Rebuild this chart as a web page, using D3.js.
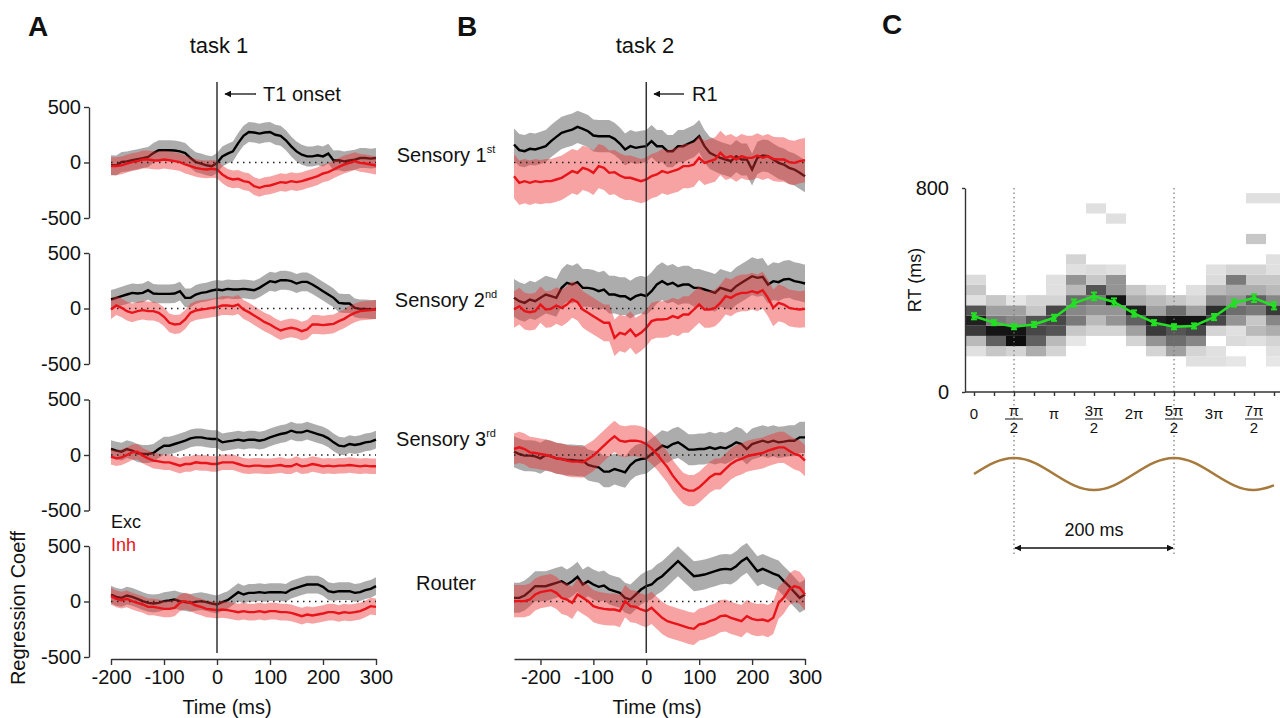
<!DOCTYPE html>
<html>
<head>
<meta charset="utf-8">
<script src="https://cdn.jsdelivr.net/npm/d3@7"></script>
<style>
body { margin: 0; background: #fff; }
svg { font-family: "Liberation Sans", Arial, sans-serif; }
.axis path, .axis line { stroke: #333; stroke-width: 1.4; }
.axis text { font-size: 20px; fill: #111; font-family: "Liberation Sans", Arial, sans-serif; }
</style>
</head>
<body>
<svg id="fig" width="1280" height="718"></svg>
<script>
// ---- data: panel A (task 1), time step 10 ms
var timeA = d3.range(-200, 301, 10);
var a1Exc = [-25,-27,5,10,20,30,40,50,85,110, 110,110,108,100,85,40,3,-10,-25,-33, -5,55,80,100,175,240,275,270,260,270, 275,250,240,200,145,100,70,55,55,65, 55,80,18,20,10,18,25,40,40,35, 40];
var a1Inh = [-33,-33,-25,-10,3,12,27,27,20,18, 27,20,12,3,-18,-33,-48,-57,-63,-57, -63,-108,-138,-153,-147,-168,-177,-213,-228,-213, -207,-192,-177,-183,-168,-177,-168,-153,-138,-123, -99,-87,-63,-39,-18,-3,12,-3,-9,-18, -27];
var a2Exc = [81,96,111,126,141,135,141,165,135,132, 132,132,135,156,96,96,126,141,147,162, 171,165,177,171,171,177,171,165,186,216, 246,237,255,255,246,225,240,240,216,186, 156,126,96,51,45,45,6,-3,-3,-9, -9];
var a2Inh = [-9,27,6,-24,-39,-24,-15,-24,-24,-39, -75,-129,-144,-138,-99,-39,-18,-9,-3,6, 12,27,27,21,36,-9,-33,-63,-93,-123, -144,-174,-198,-183,-174,-183,-204,-189,-144,-144, -150,-144,-138,-114,-93,-63,-39,-24,-18,-15, -9];
var a3Exc = [54,39,30,54,39,18,9,9,18,54, 84,84,99,114,129,150,159,159,150,144, 144,114,123,129,138,129,138,138,129,138, 159,174,189,198,219,204,204,219,204,189, 174,150,114,84,78,99,90,99,114,120, 138];
var a3Inh = [-15,-30,-21,0,24,30,-6,-30,-51,-57, -66,-66,-81,-96,-81,-81,-66,-72,-72,-81, -81,-66,-66,-66,-81,-96,-102,-96,-96,-102, -102,-96,-90,-102,-102,-81,-102,-96,-81,-90, -102,-96,-102,-96,-96,-90,-96,-102,-96,-102, -102];
var a4Exc = [63,42,33,54,42,24,3,-12,-18,-12, 3,9,18,3,-6,-12,-3,3,-6,-18, -27,-6,12,48,84,63,78,78,84,78, 84,84,84,78,108,123,138,153,153,153, 132,93,84,93,93,93,78,84,102,114, 138];
var a4Inh = [48,24,12,24,3,-12,-27,-48,-48,-57, -66,-66,-57,-12,3,-12,-36,-48,-66,-72, -78,-72,-78,-87,-96,-87,-96,-96,-87,-96, -87,-87,-96,-96,-102,-117,-132,-117,-126,-117, -108,-96,-96,-108,-96,-102,-96,-87,-66,-42, -48];
var semAExc = [90, 85, 80, 80];
var semAInh = [80, 85, 70, 75];

// ---- data: panel B (task 2)
var timeB = d3.range(-250, 301, 10);
var b1Exc = [162,111,102,123,117,132,147,192,231,267, 282,297,321,303,282,243,237,237,237,213, 171,117,147,132,141,147,192,147,147,102, 102,147,147,171,192,237,147,87,63,42, 27,12,57,27,27,-63,42,63,57,27, -3,-18,-48,-63,-93,-123];
var b1Inh = [-123,-183,-168,-183,-168,-177,-168,-168,-153,-138, -108,-78,-93,-48,-63,-93,-33,-48,-93,-87, -117,-138,-138,-153,-168,-153,-123,-108,-78,-93, -78,-63,-33,-33,-18,42,-3,12,27,87, 42,57,27,57,42,42,63,42,57,33, 27,27,3,-3,12,21];
var b2Exc = [96,66,51,81,66,96,126,111,96,186, 231,216,237,186,186,177,156,171,126,126, 111,111,81,111,126,111,156,216,246,216, 231,201,216,216,186,186,171,156,141,186, 171,156,201,231,261,291,276,285,216,246, 237,261,267,246,237,225];
var b2Inh = [-9,21,-24,-33,-24,36,-9,-3,27,6, 36,81,57,-9,-39,-69,-99,-129,-129,-264, -219,-234,-189,-249,-219,-174,-114,-99,-99,-93, -69,-84,-54,-54,-9,36,-9,-9,6,51, 111,96,126,141,141,156,141,165,96,6, 51,36,6,-3,-9,-3];
var b3Exc = [30,9,-6,-6,-12,-30,0,-12,-30,-36, -45,-45,-51,-51,-90,-102,-111,-150,-150,-126, -141,-156,-90,-51,-36,-30,9,48,84,69, 99,114,84,48,48,54,54,69,54,69, 60,84,114,99,54,99,114,129,114,129, 114,120,129,129,159,159];
var b3Inh = [54,69,54,24,18,9,0,-12,-30,-36, -51,-60,-60,-66,-36,-6,39,84,129,168, 129,120,129,129,120,99,60,9,-51,-111, -186,-246,-300,-321,-321,-291,-246,-201,-171,-171, -126,-81,-51,-36,-12,0,9,18,39,54, 69,69,39,9,-6,-51];
var b4Exc = [33,33,54,93,138,138,138,153,168,183, 153,183,222,153,183,153,132,144,108,93, 78,33,18,63,108,138,153,198,228,273, 318,363,318,273,228,234,243,258,273,288, 294,288,318,363,393,333,273,294,273,252, 234,183,138,84,33,63];
var b4Inh = [3,3,3,18,63,84,93,102,78,33, 18,-12,63,33,3,-42,-57,-66,-72,-72, -87,3,-42,-48,-72,-87,-57,-102,-147,-177, -192,-207,-222,-237,-246,-207,-198,-177,-162,-132, -126,-147,-162,-177,-132,-156,-168,-162,-177,-147, -12,36,108,138,123,63];
var semBExc = [145, 170, 140, 135];
var semBInh = [200, 165, 140, 145];

var rowNames = ["Sensory 1", "Sensory 2", "Sensory 3", "Router"];
var rowSup = ["st", "nd", "rd", ""];
var legendLabels = ["Exc", "Inh"];

// ---- data: panel C (phase in units of pi)
var phases = [0, 0.25, 0.5, 0.75, 1, 1.25, 1.5, 1.75, 2, 2.25, 2.5, 2.75, 3, 3.25, 3.5, 3.75];
var rtBins = [100, 140, 180, 220, 260, 300, 340, 380, 420, 460, 500, 540, 580, 620, 660, 700, 740];
// one row per phase column, values per RT bin (100..740), 0 = white, 1 = black
var heatCols = [
  [0, .1, .25, .75, .85, .65, .1, .2, .12, 0, 0, 0, 0, 0, 0, 0, 0],
  [0, .2, .6, .9, .5, .35, .2, 0, 0, 0, 0, 0, 0, 0, 0, 0, 0],
  [0, .15, .95, .9, .45, .35, .08, 0, 0, 0, 0, 0, 0, 0, 0, 0, 0],
  [0, .3, .6, .7, .65, .2, .15, 0, 0, 0, 0, 0, 0, 0, 0, 0, 0],
  [0, .15, .25, .65, .7, .7, .15, .1, .1, 0, 0, 0, 0, 0, 0, 0, 0],
  [0, 0, .08, .2, .5, .45, .55, .25, .4, .1, .15, 0, 0, 0, 0, 0, 0],
  [0, 0, 0, .15, .25, .4, .5, .65, .2, .12, 0, 0, 0, 0, 0, .1, 0],
  [0, 0, 0, .15, .4, .4, .9, .4, .4, .1, 0, 0, 0, 0, .1, 0, 0],
  [0, 0, .15, .35, .6, .85, .3, .2, 0, 0, 0, 0, 0, 0, 0, 0, 0],
  [0, .15, .4, .75, .85, .35, .25, .1, 0, 0, 0, 0, 0, 0, 0, 0, 0],
  [0, .35, .55, .65, .9, .55, .2, 0, 0, 0, 0, 0, 0, 0, 0, 0, 0],
  [.1, .15, .45, .7, .9, .35, .15, .1, 0, 0, 0, 0, 0, 0, 0, 0, 0],
  [.1, .1, 0, .15, .7, .8, .45, .25, .12, .1, 0, 0, 0, 0, 0, 0, 0],
  [.08, 0, .12, .1, .4, .55, .4, .3, .5, .15, 0, 0, 0, 0, 0, 0, 0],
  [0, 0, .1, .25, .2, .5, .6, .3, .2, .15, 0, 0, .2, 0, 0, 0, .1],
  [.08, .1, .15, .3, .45, .75, .45, .25, .2, .1, .1, 0, 0, 0, 0, 0, .1]
];
var rtMean = [297, 272, 256, 265, 291, 349, 375, 353, 308, 272, 256, 259, 294, 349, 368, 338];
var rtErr = [12, 10, 10, 10, 12, 14, 15, 14, 12, 10, 10, 10, 12, 14, 15, 14];
var sineVal = [0, .71, 1, .71, 0, -.71, -1, -.71, 0, .71, 1, .71, 0, -.71, -1, -.71];
var cTickNum = ["0", "π", "π", "3π", "2π", "5π", "3π", "7π"];
var cTickDen = ["", "2", "", "2", "", "2", "", "2"];
var cTickAt = [0, 0.5, 1, 1.5, 2, 2.5, 3, 3.5];

var svg = d3.select("#fig");

svg.append("defs").append("marker")
    .attr("id", "arrow")
    .attr("viewBox", "0 0 10 10")
    .attr("refX", 9).attr("refY", 5)
    .attr("markerWidth", 7).attr("markerHeight", 7)
    .attr("markerUnits", "userSpaceOnUse")
    .attr("orient", "auto-start-reverse")
    .append("path")
    .attr("d", "M0,0 L10,5 L0,10 z")
    .attr("fill", "#111");

var rowTop = [107, 253, 399.5, 546], rowH = 111;
var yRow = rowTop.map(function(t) {
    return d3.scaleLinear().domain([-500, 500]).range([t + rowH, t]);
});

var xA = d3.scaleLinear().domain([-200, 300]).range([111, 376]);
var xB = d3.scaleLinear().domain([-250, 300]).range([514, 805]);
var plain = function(d) { return String(d); };   // keep ascii hyphen like the figure

function drawPanel(x, t, excRows, inhRows, semExc, semInh) {
    excRows.forEach(function(exc, i) {
        var y = yRow[i];
        var inh = inhRows[i];
        var pts = t.map(function(tt, j) { return { t: tt, e: exc[j], h: inh[j] }; });
        var g = svg.append("g");

        g.append("path").datum(pts)
            .attr("d", d3.area()
                .x(function(d) { return x(d.t); })
                .y0(function(d) { return y(d.e - semExc[i]); })
                .y1(function(d) { return y(d.e + semExc[i]); }))
            .attr("fill", "#7f7f7f")
            .attr("fill-opacity", 0.65);
        g.append("path").datum(pts)
            .attr("d", d3.line()
                .x(function(d) { return x(d.t); })
                .y(function(d) { return y(d.e); }))
            .attr("fill", "none")
            .attr("stroke", "#000")
            .attr("stroke-width", 2.4);
        g.append("path").datum(pts)
            .attr("d", d3.area()
                .x(function(d) { return x(d.t); })
                .y0(function(d) { return y(d.h - semInh[i]); })
                .y1(function(d) { return y(d.h + semInh[i]); }))
            .attr("fill", "#ee3333")
            .attr("fill-opacity", 0.45);
        g.append("line")
            .attr("x1", x(t[0])).attr("x2", x(t[t.length - 1]))
            .attr("y1", y(0)).attr("y2", y(0))
            .attr("stroke", "#222")
            .attr("stroke-width", 1.6)
            .attr("stroke-dasharray", "1.5,4.5");
        g.append("path").datum(pts)
            .attr("d", d3.line()
                .x(function(d) { return x(d.t); })
                .y(function(d) { return y(d.h); }))
            .attr("fill", "none")
            .attr("stroke", "#e8141a")
            .attr("stroke-width", 2.4);
    });

    svg.append("line")
        .attr("x1", x(0)).attr("x2", x(0))
        .attr("y1", 82).attr("y2", 653)
        .attr("stroke", "#333")
        .attr("stroke-width", 1.5);

    svg.append("g")
        .attr("class", "axis")
        .attr("transform", "translate(0,659)")
        .call(d3.axisBottom(x).tickValues([-200, -100, 0, 100, 200, 300]).tickFormat(plain)
            .tickSize(6).tickSizeOuter(0).tickPadding(5));
}

drawPanel(xA, timeA, [a1Exc, a2Exc, a3Exc, a4Exc], [a1Inh, a2Inh, a3Inh, a4Inh], semAExc, semAInh);
drawPanel(xB, timeB, [b1Exc, b2Exc, b3Exc, b4Exc], [b1Inh, b2Inh, b3Inh, b4Inh], semBExc, semBInh);

yRow.forEach(function(y) {
    svg.append("g")
        .attr("class", "axis")
        .attr("transform", "translate(89,0)")
        .call(d3.axisLeft(y).tickValues([-500, 0, 500]).tickFormat(plain)
            .tickSize(5).tickSizeOuter(0).tickPadding(3));
});

// text for A and B
function label(x, y, txt, size, opts) {
    opts = opts || {};
    return svg.append("text")
        .attr("x", x).attr("y", y)
        .attr("font-size", size)
        .attr("font-weight", opts.bold ? "bold" : null)
        .attr("text-anchor", opts.anchor || "start")
        .attr("fill", opts.fill || "#111")
        .text(txt);
}

label(28, 36, "A", 28, { bold: true });
label(457, 36, "B", 28, { bold: true });
label(882, 34, "C", 28, { bold: true });
label(219, 53, "task 1", 22, { anchor: "middle" });
label(645, 53, "task 2", 22, { anchor: "middle" });

svg.append("line")
    .attr("x1", 256).attr("x2", 225).attr("y1", 94).attr("y2", 94)
    .attr("stroke", "#111").attr("stroke-width", 1.3)
    .attr("marker-end", "url(#arrow)");
label(263, 101, "T1 onset", 20);
svg.append("line")
    .attr("x1", 684).attr("x2", 654).attr("y1", 94).attr("y2", 94)
    .attr("stroke", "#111").attr("stroke-width", 1.3)
    .attr("marker-end", "url(#arrow)");
label(692, 101, "R1", 20);

var rowLabelY = [162, 307, 446, 590];
rowNames.forEach(function(name, i) {
    var t = svg.append("text")
        .attr("x", 446).attr("y", rowLabelY[i])
        .attr("font-size", 20)
        .attr("text-anchor", "middle")
        .attr("fill", "#111");
    t.append("tspan").text(name);
    if (rowSup[i]) {
        t.append("tspan")
            .attr("font-size", 11)
            .attr("dy", -9)
            .text(rowSup[i]);
    }
});

label(111, 528, legendLabels[0], 18);
label(111, 551, legendLabels[1], 18, { fill: "#e8141a" });

label(227, 714, "Time (ms)", 20, { anchor: "middle" });
label(657, 714, "Time (ms)", 20, { anchor: "middle" });
svg.append("text")
    .attr("transform", "translate(25,608) rotate(-90)")
    .attr("font-size", 20)
    .attr("text-anchor", "middle")
    .attr("fill", "#111")
    .text("Regression Coeff");

// ---- panel C
var xC = d3.scaleLinear().domain([0, 3.75]).range([974, 1274]);
var yC = d3.scaleLinear().domain([0, 800]).range([392, 188]);
var cellW = xC(0.25) - xC(0);
var shade = d3.scaleLinear().domain([0, 1]).range(["#fafafa", "#0d0d0d"]);

var cells = [];
heatCols.forEach(function(col, c) {
    col.forEach(function(v, b) {
        if (v > 0) cells.push({ p: phases[c], rt: rtBins[b], v: v });
    });
});
svg.append("g")
    .selectAll("rect")
    .data(cells)
    .enter().append("rect")
    .attr("x", function(d) { return xC(d.p) - cellW / 2 + 2; })
    .attr("y", function(d) { return yC(d.rt + 40); })
    .attr("width", cellW)
    .attr("height", function(d) { return yC(d.rt) - yC(d.rt + 40); })
    .attr("fill", function(d) { return shade(Math.min(1, d.v * 1.08)); });

[0.5, 2.5].forEach(function(p) {
    svg.append("line")
        .attr("x1", xC(p)).attr("x2", xC(p))
        .attr("y1", 188).attr("y2", 556)
        .attr("stroke", "#777")
        .attr("stroke-width", 1.2)
        .attr("stroke-dasharray", "1.5,3");
});

svg.append("g")
    .attr("class", "axis")
    .attr("transform", "translate(965,0)")
    .call(d3.axisLeft(yC).tickValues([0, 800]).tickSize(3).tickSizeOuter(0).tickPadding(13))
    .selectAll("text").attr("font-size", 18);

svg.append("line")
    .attr("x1", 965).attr("x2", 1280).attr("y1", 392).attr("y2", 392)
    .attr("stroke", "#333").attr("stroke-width", 1.6);
var xAxisC = svg.append("g")
    .attr("class", "axis")
    .attr("transform", "translate(0,392)")
    .call(d3.axisBottom(xC).tickValues(phases).tickSize(4).tickSizeOuter(0).tickFormat(""));
xAxisC.select(".domain").remove();

cTickAt.forEach(function(p, i) {
    var cx = xC(p);
    if (cTickDen[i]) {
        label(cx, 416, cTickNum[i], 15, { anchor: "middle" });
        svg.append("line")
            .attr("x1", cx - 9).attr("x2", cx + 9)
            .attr("y1", 419).attr("y2", 419)
            .attr("stroke", "#111").attr("stroke-width", 1);
        label(cx, 433, cTickDen[i], 15, { anchor: "middle" });
    } else {
        label(cx, 419, cTickNum[i], 15, { anchor: "middle" });
    }
});

svg.append("text")
    .attr("transform", "translate(921,280) rotate(-90)")
    .attr("font-size", 18)
    .attr("text-anchor", "middle")
    .attr("fill", "#111")
    .text("RT (ms)");

// green mean RT with error bars
var green = "#22e022";
var rtPts = phases.map(function(p, i) { return { p: p, m: rtMean[i], e: rtErr[i] }; });
svg.append("path").datum(rtPts)
    .attr("d", d3.line()
        .x(function(d) { return xC(d.p); })
        .y(function(d) { return yC(d.m); }))
    .attr("fill", "none")
    .attr("stroke", green)
    .attr("stroke-width", 2.5);
var eb = svg.append("g").selectAll("g").data(rtPts).enter().append("g")
    .attr("stroke", green).attr("stroke-width", 2);
eb.append("line")
    .attr("x1", function(d) { return xC(d.p); })
    .attr("x2", function(d) { return xC(d.p); })
    .attr("y1", function(d) { return yC(d.m - d.e); })
    .attr("y2", function(d) { return yC(d.m + d.e); });
eb.append("line")
    .attr("x1", function(d) { return xC(d.p) - 3; })
    .attr("x2", function(d) { return xC(d.p) + 3; })
    .attr("y1", function(d) { return yC(d.m + d.e); })
    .attr("y2", function(d) { return yC(d.m + d.e); });
eb.append("line")
    .attr("x1", function(d) { return xC(d.p) - 3; })
    .attr("x2", function(d) { return xC(d.p) + 3; })
    .attr("y1", function(d) { return yC(d.m - d.e); })
    .attr("y2", function(d) { return yC(d.m - d.e); });
eb.append("circle")
    .attr("cx", function(d) { return xC(d.p); })
    .attr("cy", function(d) { return yC(d.m); })
    .attr("r", 2.5)
    .attr("fill", green)
    .attr("stroke", "none");

// sine wave of the oscillation
var yS = d3.scaleLinear().domain([-1, 1]).range([490, 458]);
svg.append("path")
    .datum(phases.map(function(p, i) { return [p, sineVal[i]]; }))
    .attr("d", d3.line()
        .x(function(d) { return xC(d[0]); })
        .y(function(d) { return yS(d[1]); })
        .curve(d3.curveNatural))
    .attr("fill", "none")
    .attr("stroke", "#a67a3c")
    .attr("stroke-width", 2.6);

svg.append("line")
    .attr("x1", xC(0.5) + 1).attr("x2", xC(2.5) - 1)
    .attr("y1", 548).attr("y2", 548)
    .attr("stroke", "#111").attr("stroke-width", 1.4)
    .attr("marker-start", "url(#arrow)")
    .attr("marker-end", "url(#arrow)");
label((xC(0.5) + xC(2.5)) / 2, 536, "200 ms", 18, { anchor: "middle" });
</script>
</body>
</html>
